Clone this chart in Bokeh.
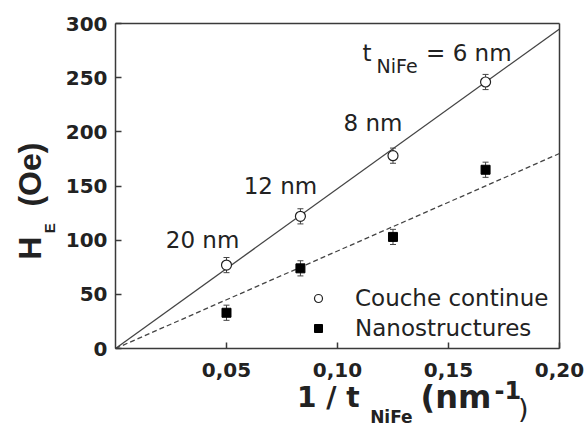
import math
from bokeh.plotting import figure
from bokeh.models import (Range1d, FixedTicker, Label, Legend, LegendItem,
                          Whisker, ColumnDataSource, TeeHead, LinearAxis)
from bokeh.embed import file_html
from bokeh.resources import INLINE

# ---- data -------------------------------------------------------------
thickness_labels = ["20 nm", "12 nm", "8 nm"]
inv_t = [0.05, 0.0833, 0.125, 0.1667]
he_continue = [77, 122, 178, 246]
err_continue = [7, 7, 7, 7]
he_nano = [33, 74, 103, 165]
err_nano = [7, 7, 7, 7]
fit_x = [0.0, 0.2]
fit_continue = [0, 295]
fit_nano = [0, 180]
x_ticks = [0.05, 0.10, 0.15, 0.20]
x_tick_labels = ["0,05", "0,10", "0,15", "0,20"]
y_ticks = [0, 50, 100, 150, 200, 250, 300]
legend_labels = ["Couche continue", "Nanostructures"]

DARK = "#222222"
LINE = "#3a3a3a"
FIT = "#444444"

# frame spans the whole canvas; the box is drawn with fixed-location axes
p = figure(width=584, height=429,
           x_range=Range1d(-0.0518018, 0.2112613),
           y_range=Range1d(-74.7692, 321.2308),
           output_backend="svg", toolbar_location=None, min_border=0)
p.grid.visible = False
p.background_fill_color = "white"
p.border_fill_color = "white"
p.outline_line_color = None

def style_axis(ax):
    ax.axis_line_color = LINE
    ax.axis_line_width = 1.5
    ax.major_tick_line_color = LINE
    ax.major_tick_line_width = 1.5
    ax.major_tick_in = 6
    ax.major_tick_out = 0
    ax.minor_tick_in = 0
    ax.minor_tick_out = 0
    ax.major_label_text_font = "DejaVu Sans"
    ax.major_label_text_font_style = "bold"
    ax.major_label_text_font_size = "20px"
    ax.major_label_text_color = DARK
    ax.axis_label = None

xa = p.xaxis[0]
ya = p.yaxis[0]
style_axis(xa)
style_axis(ya)
xa.fixed_location = 0
xa.bounds = (0, 0.2)
xa.ticker = FixedTicker(ticks=x_ticks)
xa.major_label_overrides = dict(zip(x_ticks, x_tick_labels))
xa.major_label_standoff = 14
ya.fixed_location = 0
ya.bounds = (0, 300)
ya.ticker = FixedTicker(ticks=y_ticks)
ya.major_label_standoff = 8

top = LinearAxis(fixed_location=300, bounds=(0, 0.2), ticker=FixedTicker(ticks=[]))
right = LinearAxis(fixed_location=0.2, bounds=(0, 300), ticker=FixedTicker(ticks=[]))
for ax in (top, right):
    style_axis(ax)
    ax.major_tick_in = 0
p.add_layout(top, "above")
p.add_layout(right, "right")

# fit lines
p.line(fit_x, fit_continue, line_color=FIT, line_width=1.3)
p.line(fit_x, fit_nano, line_color=FIT, line_width=1.3, line_dash="5 3")

# error bars
src_c = ColumnDataSource(dict(x=inv_t, y=he_continue,
                              lo=[v - e for v, e in zip(he_continue, err_continue)],
                              hi=[v + e for v, e in zip(he_continue, err_continue)]))
src_n = ColumnDataSource(dict(x=inv_t, y=he_nano,
                              lo=[v - e for v, e in zip(he_nano, err_nano)],
                              hi=[v + e for v, e in zip(he_nano, err_nano)]))
for src in (src_c, src_n):
    w = Whisker(source=src, base="x", upper="hi", lower="lo", line_color=FIT, line_width=1,
                upper_head=TeeHead(size=6, line_color=FIT, line_width=1),
                lower_head=TeeHead(size=6, line_color=FIT, line_width=1))
    p.add_layout(w)

r_c = p.scatter("x", "y", source=src_c, marker="circle", size=10, fill_color="white",
                line_color=DARK, line_width=1.2)
r_n = p.scatter("x", "y", source=src_n, marker="square", size=9, fill_color="black",
                line_color="black", line_width=1)

legend = Legend(items=[LegendItem(label=legend_labels[0], renderers=[r_c]),
                       LegendItem(label=legend_labels[1], renderers=[r_n])],
                location=(308, 88), padding=0, margin=0, spacing=4,
                glyph_width=20, glyph_height=24, label_height=24, label_standoff=27,
                label_text_font="DejaVu Sans", label_text_font_size="23px",
                label_text_color=DARK, border_line_alpha=0, background_fill_alpha=0)
p.add_layout(legend)

# thickness annotations
ann_x = [0.0392, 0.0743, 0.116]
ann_y = [99.8, 149.8, 207.8]
for t, x, y in zip(thickness_labels, ann_x, ann_y):
    p.add_layout(Label(x=x, y=y, text=t, text_align="center", text_baseline="alphabetic",
                       text_font="DejaVu Sans", text_font_size="23px", text_color=DARK))

def lab(x, y, text, size, bold=False, font="DejaVu Sans", angle=0.0, color=DARK):
    p.add_layout(Label(x=x, y=y, text=text, text_align="left", text_baseline="alphabetic",
                       text_font=font, text_font_size=size,
                       text_font_style="bold" if bold else "normal",
                       angle=angle, text_color=color))

# "t NiFe = 6 nm"
lab(0.1113, 272.8, "t", "23px")
lab(0.1176, 261, "NiFe", "19px")
lab(0.1399, 272.8, "= 6 nm", "23px")

# y axis label: H_E (Oe)
lab(-0.0383, 82, "H", "32px", bold=True, font="Liberation Sans", angle=math.pi / 2)
lab(-0.0297, 106.5, "E", "15px", bold=True, font="Liberation Sans", angle=math.pi / 2)
lab(-0.0383, 131, "(Oe)", "32px", bold=True, font="Liberation Sans", angle=math.pi / 2)

# x axis label: 1 / t_NiFe (nm^-1)
lab(0.0818, -45.0, "1 / t", "28px", bold=True)
lab(0.1147, -63.0, "NiFe", "17px", bold=True)
lab(0.1374, -44.5, "(nm", "32px", bold=True)
lab(0.1707, -38.4, "-1", "24px", bold=True)
lab(0.1813, -55.3, ")", "27px")

open("out.html", "w").write(file_html(p, INLINE))
